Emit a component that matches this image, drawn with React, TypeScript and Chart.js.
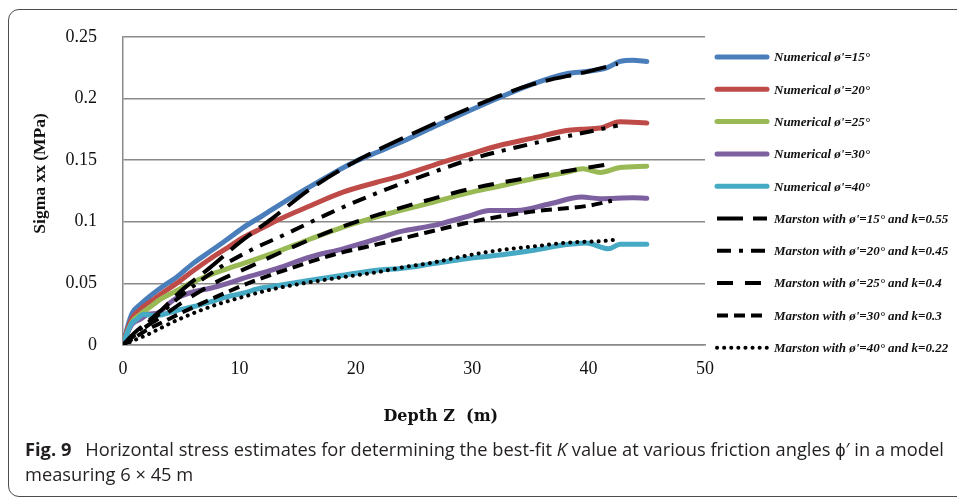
import React, { useEffect, useRef } from 'react';
import { Chart, registerables } from 'chart.js';
Chart.register(...registerables);

const xTickLabels = ['0', '10', '20', '30', '40', '50'];
const yTickLabels = ['0', '0.05', '0.1', '0.15', '0.2', '0.25'];

const seriesLabels = [
  "Numerical ø'=15°",
  "Numerical ø'=20°",
  "Numerical ø'=25°",
  "Numerical ø'=30°",
  "Numerical ø'=40°",
  "Marston with ø'=15° and k=0.55",
  "Marston with ø'=20° and k=0.45",
  "Marston with ø'=25° and k=0.4",
  "Marston with ø'=30° and k=0.3",
  "Marston with ø'=40° and k=0.22",
];

// Numerical results (depth Z in m, sigma xx in MPa)
const zNum15 = [0, 0.4, 0.8, 1.5, 2.5, 3.5, 4.6, 6, 7.5, 9, 10.3, 12, 14, 16, 18, 20, 22, 24, 26.7, 29.5, 32.4, 35.3, 38.1, 40, 41.6, 42.7, 43.8, 45];
const sNum15 = [0, 0.015, 0.026, 0.033, 0.041, 0.048, 0.055, 0.066, 0.076, 0.086, 0.095, 0.105, 0.117, 0.128, 0.139, 0.149, 0.157, 0.165, 0.177, 0.189, 0.201, 0.212, 0.22, 0.222, 0.225, 0.23, 0.231, 0.23];

const zNum20 = [0, 0.4, 0.8, 1.5, 2.5, 3.5, 4.6, 6, 7.5, 9, 10.3, 12, 13.2, 16.1, 18.9, 21.8, 23.8, 26.7, 29.5, 32.4, 35.3, 38.1, 39.3, 41, 42.7, 45];
const sNum20 = [0, 0.013, 0.022, 0.029, 0.036, 0.043, 0.05, 0.06, 0.07, 0.079, 0.087, 0.095, 0.101, 0.113, 0.124, 0.132, 0.137, 0.146, 0.154, 0.162, 0.168, 0.174, 0.175, 0.176, 0.181, 0.18];

const zNum25 = [0, 0.4, 0.8, 1.5, 2.5, 3.2, 4.6, 6, 7.5, 9, 10.3, 13.2, 16.1, 18.9, 21.8, 23.8, 26.7, 29.5, 32.4, 35.3, 38.1, 39.5, 41, 42.7, 45];
const sNum25 = [0, 0.011, 0.019, 0.025, 0.032, 0.037, 0.044, 0.051, 0.057, 0.062, 0.066, 0.0755, 0.086, 0.0957, 0.104, 0.109, 0.116, 0.123, 0.129, 0.135, 0.14, 0.143, 0.14, 0.144, 0.145];

const zNum30 = [0, 0.4, 0.8, 1.5, 2.2, 3, 4, 4.6, 6, 7.5, 9, 10.3, 13.2, 16.1, 18.9, 21.8, 23.8, 26.7, 29.5, 31.5, 33.8, 36.7, 39.4, 41, 43.8, 45];
const sNum30 = [0, 0.01, 0.017, 0.021, 0.025, 0.026, 0.034, 0.038, 0.043, 0.046, 0.05, 0.054, 0.062, 0.0715, 0.078, 0.086, 0.092, 0.097, 0.104, 0.109, 0.109, 0.1146, 0.12, 0.1187, 0.1195, 0.119];

const zNum40 = [0, 0.3, 0.7, 1.2, 1.8, 2.5, 3.2, 4.6, 6, 7.5, 8.9, 10.3, 11.8, 13.2, 16.1, 18.9, 21.8, 23.8, 26.7, 29.5, 32.4, 35.3, 38.1, 39.8, 41.7, 42.7, 45];
const sNum40 = [0, 0.008, 0.017, 0.021, 0.025, 0.024, 0.0243, 0.028, 0.031, 0.035, 0.039, 0.042, 0.046, 0.048, 0.0526, 0.0566, 0.0607, 0.062, 0.066, 0.07, 0.073, 0.0769, 0.0815, 0.0828, 0.078, 0.0817, 0.0817];

// Marston estimates
const zM15 = [0, 1, 2, 3.5, 5, 7.5, 10, 13, 16, 20, 25, 30, 35, 40, 42.5];
const sM15 = [0, 0.01, 0.018, 0.03, 0.044, 0.063, 0.083, 0.104, 0.126, 0.149, 0.172, 0.193, 0.211, 0.222, 0.228];

const zM20 = [0, 1, 2, 3.5, 5, 8, 11, 14, 18, 22, 26, 30, 35, 40, 42.5];
const sM20 = [0, 0.009, 0.017, 0.028, 0.04, 0.061, 0.077, 0.09, 0.108, 0.124, 0.138, 0.151, 0.163, 0.173, 0.178];

const zM25 = [0, 1, 2, 3.5, 5, 8, 11, 14, 18, 22, 26, 30, 35, 40, 42];
const sM25 = [0, 0.008, 0.015, 0.024, 0.034, 0.051, 0.064, 0.077, 0.093, 0.106, 0.117, 0.127, 0.136, 0.144, 0.147];

const zM30 = [0, 1, 2, 3.5, 5, 8, 11, 14, 18, 22, 26, 30, 35, 40, 42];
const sM30 = [0, 0.006, 0.012, 0.019, 0.026, 0.039, 0.051, 0.061, 0.073, 0.082, 0.091, 0.1, 0.108, 0.113, 0.117];

const zM40 = [0, 1, 2, 4.6, 7.5, 10.3, 13.2, 16.1, 18.9, 21.8, 24, 26.7, 29.5, 32.4, 35.3, 38.1, 41.5, 42.4];
const sM40 = [0, 0.004, 0.008, 0.02, 0.031, 0.039, 0.046, 0.051, 0.055, 0.059, 0.063, 0.067, 0.0725, 0.077, 0.08, 0.083, 0.0845, 0.0855];

const numColors = ['#4a7ebb', '#be4b48', '#98b954', '#7d60a0', '#46aac5'];
const marstonDashes = [[26, 10], [14, 8, 4, 8], [16, 12], [11, 6], [0.1, 7]];

const pts = (z: number[], s: number[]) => z.map((x, i) => ({ x, y: s[i] }));

const sideLegend = {
  id: 'sideLegend',
  afterDraw(chart: any) {
    const ctx = chart.ctx;
    const x0 = chart.chartArea.right + 12;
    chart.data.datasets.forEach((ds: any, i: number) => {
      const y = 57 + i * 32.3;
      ctx.save();
      ctx.strokeStyle = ds.borderColor;
      ctx.lineWidth = ds.borderWidth;
      ctx.setLineDash(ds.borderDash || []);
      ctx.lineCap = ds.borderCapStyle || 'butt';
      ctx.beginPath();
      ctx.moveTo(x0, y);
      ctx.lineTo(x0 + 50, y);
      ctx.stroke();
      ctx.setLineDash([]);
      ctx.fillStyle = '#111';
      ctx.font = 'italic bold 13px "Liberation Serif"';
      ctx.textBaseline = 'middle';
      ctx.textAlign = 'left';
      ctx.fillText(ds.label, x0 + 57, y + 1);
      ctx.restore();
    });
  },
};

function ChartView() {
  const ref = useRef<HTMLCanvasElement | null>(null);
  useEffect(() => {
    if (!ref.current) return;
    const numSeries = [
      pts(zNum15, sNum15), pts(zNum20, sNum20), pts(zNum25, sNum25), pts(zNum30, sNum30), pts(zNum40, sNum40),
    ];
    const marSeries = [
      pts(zM15, sM15), pts(zM20, sM20), pts(zM25, sM25), pts(zM30, sM30), pts(zM40, sM40),
    ];
    const datasets: any[] = [];
    numSeries.forEach((d, i) => {
      datasets.push({
        label: seriesLabels[i],
        data: d,
        borderColor: numColors[i],
        backgroundColor: numColors[i],
        borderWidth: 5,
        borderCapStyle: 'round',
        borderJoinStyle: 'round',
        pointRadius: 0,
        showLine: true,
        cubicInterpolationMode: 'monotone',
        order: 10 - i,
      });
    });
    marSeries.forEach((d, i) => {
      datasets.push({
        label: seriesLabels[5 + i],
        data: d,
        borderColor: '#000',
        backgroundColor: '#000',
        borderWidth: 4,
        borderDash: marstonDashes[i],
        borderCapStyle: i === 4 ? 'round' : 'butt',
        pointRadius: 0,
        showLine: true,
        cubicInterpolationMode: 'monotone',
        order: 5 - i,
      });
    });

    const chart = new Chart(ref.current, {
      type: 'scatter',
      data: { datasets },
      plugins: [sideLegend],
      options: {
        animation: false,
        responsive: false,
        maintainAspectRatio: false,
        layout: { padding: { top: 36, right: 252, bottom: 0, left: 0 } },
        plugins: { legend: { display: false }, tooltip: { enabled: false } },
        scales: {
          x: {
            type: 'linear',
            min: 0,
            max: 50,
            ticks: {
              stepSize: 10,
              padding: 13,
              color: '#111',
              font: { family: 'Liberation Serif', size: 18 },
              callback: (v: any) => xTickLabels[Math.round(Number(v) / 10)],
            },
            grid: { display: false, drawTicks: false },
            border: { display: true, color: '#8a8a8a', width: 1.5 },
            title: {
              display: true,
              text: '\u2003\u2003\u2003 Depth Z  (m)',
              color: '#111',
              font: { family: 'DejaVu Serif', size: 16, weight: 'bold' },
              padding: { top: 0, bottom: 14 },
            },
            afterFit: (s: any) => { s.height = 95; },
          },
          y: {
            type: 'linear',
            min: 0,
            max: 0.25,
            ticks: {
              stepSize: 0.05,
              padding: 26,
              color: '#111',
              font: { family: 'Liberation Serif', size: 18 },
              callback: (v: any) => yTickLabels[Math.round(Number(v) / 0.05)],
            },
            grid: { color: '#8a8a8a', lineWidth: 1.5, drawTicks: false },
            border: { display: true, color: '#8a8a8a', width: 1.5 },
            title: {
              display: true,
              text: '\u2003\u2003Sigma xx (MPa)',
              color: '#111',
              font: { family: 'Liberation Serif', size: 17.5, weight: 'bold' },
              padding: { top: 30, bottom: 0 },
            },
            afterFit: (s: any) => { s.width = 123; },
          },
        },
      },
    });
    return () => chart.destroy();
  }, []);
  return <canvas ref={ref} width={957} height={440} style={{ width: 957, height: 440, display: 'block' }} />;
}

export default function App() {
  return (
    <div style={{ position: 'fixed', left: 0, top: 0, width: 957, height: 498, background: '#fff', overflow: 'hidden' }}>
      <div style={{ position: 'absolute', left: 8, top: 9, width: 1000, height: 488, boxSizing: 'border-box', border: '1.5px solid #4d4d4d', borderRadius: 11 }} />
      <div style={{ position: 'absolute', left: 0, top: 0 }}>
        <ChartView />
      </div>
      <div style={{ position: 'absolute', left: 25, top: 437, fontFamily: '"Open Sans", sans-serif', fontSize: 18.3, lineHeight: '24.5px', color: '#231f20', whiteSpace: 'nowrap' }}>
        <span style={{ fontWeight: 700 }}>Fig. 9</span>
        {'\u2002 Horizontal stress estimates for determining the best-fit '}
        <i>K</i>
        {' value at various friction angles \u03d5\u2032 in a model'}
        <br />
        {'measuring 6 \u00d7 45 m'}
      </div>
    </div>
  );
}
